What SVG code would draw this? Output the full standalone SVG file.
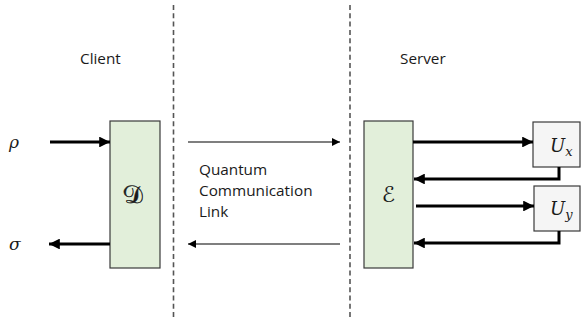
<svg xmlns="http://www.w3.org/2000/svg" width="581" height="324" viewBox="0 0 581 324">
  <style>
    .label { font-family: "Open Sans", "Noto Sans", sans-serif; font-size: 15.3px; fill: #1a1a1a; }
    .math { font-family: "DejaVu Serif", "Liberation Serif", serif; font-style: italic; fill: #1a1a1a; }
    .script { font-family: "DejaVu Sans", "Noto Sans", sans-serif; font-style: normal; fill: #1a1a1a; }
    .divider { stroke: #555; stroke-width: 1.6; stroke-dasharray: 5 3.3; fill: none; }
    .block { fill: #e2efda; stroke: #3a3a3a; stroke-width: 1.2; }
    .unitary { fill: #f5f5f5; stroke: #3a3a3a; stroke-width: 1.2; }
    .thick { stroke: #000; stroke-width: 3; fill: none; }
    .thin { stroke: #000; stroke-width: 1.2; fill: none; }
  </style>
  <defs>
    <marker id="headThick" viewBox="0 0 10 10" refX="10" refY="5" markerWidth="3.6" markerHeight="3.6" orient="auto" markerUnits="strokeWidth">
      <path d="M0,0 L10,5 L0,10 Z" fill="#000"/>
    </marker>
    <marker id="headThin" viewBox="0 0 10 10" refX="10" refY="5" markerWidth="7" markerHeight="7" orient="auto" markerUnits="strokeWidth">
      <path d="M0,0 L10,5 L0,10 Z" fill="#000"/>
    </marker>
  </defs>

  <rect width="581" height="324" fill="#fff"/>

  <!-- dashed separators -->
  <g id="dividers">
    <line class="divider" x1="173.5" y1="5" x2="173.5" y2="320"/>
    <line class="divider" x1="350" y1="5" x2="350" y2="320"/>
  </g>

  <!-- side titles -->
  <text class="label" x="80" y="64">Client</text>
  <text class="label" x="400" y="64">Server</text>

  <!-- link caption -->
  <g id="link-label">
    <text class="label" x="199" y="175">Quantum</text>
    <text class="label" x="199" y="196">Communication</text>
    <text class="label" x="199" y="217">Link</text>
  </g>

  <!-- input/output labels -->
  <text class="math" x="9" y="148" font-size="17">ρ</text>
  <text class="math" x="9" y="250" font-size="17">σ</text>

  <g id="decoder">
    <rect class="block" x="110" y="121" width="50" height="147"/>
    <!-- upright the slanted script glyph -->
    <g transform="translate(135,203) skewX(16)">
      <text class="script" x="0" y="0" font-size="25" stroke="#1a1a1a" stroke-width="0.4" text-anchor="middle">𝒟</text>
    </g>
  </g>

  <g id="encoder">
    <rect class="block" x="364" y="121" width="49" height="147"/>
    <text class="script" x="388.5" y="202" font-size="22" text-anchor="middle">ℰ</text>
  </g>

  <g id="ux">
    <rect class="unitary" x="533" y="122" width="47" height="45"/>
    <text class="math" x="550" y="152" font-size="18">U<tspan font-size="13" dy="4">x</tspan></text>
  </g>

  <g id="uy">
    <rect class="unitary" x="534" y="186" width="46" height="45"/>
    <text class="math" x="550" y="215" font-size="18">U<tspan font-size="13" dy="4">y</tspan></text>
  </g>

  <g id="connectors">
    <line class="thick" x1="50" y1="142" x2="110" y2="142" marker-end="url(#headThick)"/>
    <line class="thick" x1="110" y1="244" x2="49" y2="244" marker-end="url(#headThick)"/>
    <line class="thin" x1="188" y1="142" x2="340" y2="142" marker-end="url(#headThin)"/>
    <line class="thin" x1="340" y1="244" x2="188" y2="244" marker-end="url(#headThin)"/>
    <line class="thick" x1="413" y1="142" x2="533" y2="142" marker-end="url(#headThick)"/>
    <polyline class="thick" points="559,167 559,179 414,179" marker-end="url(#headThick)"/>
    <line class="thick" x1="416" y1="206" x2="534" y2="206" marker-end="url(#headThick)"/>
    <polyline class="thick" points="559,231 559,243 414,243" marker-end="url(#headThick)"/>
  </g>
</svg>
